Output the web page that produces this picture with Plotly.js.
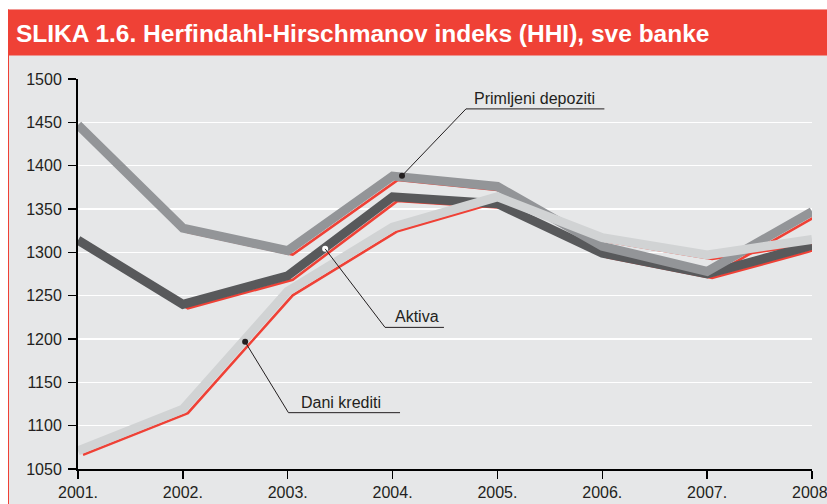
<!DOCTYPE html>
<html>
<head>
<meta charset="utf-8">
<script src="https://cdn.plot.ly/plotly-3.0.1.min.js"></script>
<style>
  html, body { margin: 0; padding: 0; background: #ffffff; }
  #chart { width: 827px; height: 504px; }
</style>
</head>
<body>
<div id="chart"></div>
<script>
// ---- data ----
const years = [2001, 2002, 2003, 2004, 2005, 2006, 2007, 2008];
const yearLabels = ["2001.", "2002.", "2003.", "2004.", "2005.", "2006.", "2007.", "2008."];
const depoziti = [1447, 1328, 1302, 1388, 1376, 1307, 1278, 1347];
const aktiva   = [1314, 1240, 1273, 1364, 1356, 1299, 1275, 1308];
const krediti  = [1071, 1119, 1255, 1329, 1364, 1317, 1297, 1315];
const yTicks = [1050, 1100, 1150, 1200, 1250, 1300, 1350, 1400, 1450, 1500];

const seriesNames = ["Primljeni depoziti", "Aktiva", "Dani krediti"];
// leader-line anchor points (data coords): dot, elbow, end of underline
const labelDotX   = [2004.09, 2003.357, 2002.594];
const labelDotY   = [1388.4, 1304.0, 1196.7];
const labelElbowX = [2004.70, 2003.928, 2003.007];
const labelElbowY = [1465.5, 1213.4, 1115.0];
const labelEndX   = [2006.02, 2004.49, 2004.071];
const labelTextX  = [2004.76, 2004.00, 2003.11];

// ---- layout constants ----
const W = 827, H = 504;
const M = {l: 78, r: 15, t: 79, b: 35};
const PW = W - M.l - M.r, PH = H - M.t - M.b;
const xRange = [2001, 2008], yRange = [1050, 1500];
const px2x = px => (px - M.l) / PW;
const py2y = py => (H - M.b - py) / PH;
const shadowDX = 5, shadowDY = 4; // pixel offset of the red shadow line
const dxData = shadowDX * (xRange[1] - xRange[0]) / PW;
const dyData = shadowDY * (yRange[1] - yRange[0]) / PH;

const FONT = "'Liberation Sans', Arial, Helvetica, sans-serif";
const RED = "#ef4136";
const TXT = "#231f20";
const grays = ["#939598", "#58595b", "#d1d3d4"];
const dataSets = [depoziti, aktiva, krediti];

const traces = [];
// red shadow lines (drawn first, shifted via overlay axes)
dataSets.forEach((d, i) => {
  traces.push({
    x: years, y: d, xaxis: "x2", yaxis: "y2", type: "scatter", mode: "lines",
    line: {color: RED, width: 2.6}, cliponaxis: false, hoverinfo: "skip", showlegend: false
  });
});
// thick gray lines: aktiva (dark) below, then depoziti, then krediti on top
[1, 0, 2].forEach(i => {
  traces.push({
    x: years, y: dataSets[i], xaxis: "x3", yaxis: "y3", type: "scatter", mode: "lines",
    name: seriesNames[i],
    line: {color: grays[i], width: 9}, cliponaxis: false, hoverinfo: "skip", showlegend: false
  });
});
// label dots
traces.push({
  x: labelDotX, y: labelDotY, xaxis: "x3", yaxis: "y3", type: "scatter", mode: "markers",
  marker: {size: 6, color: [TXT, "#ffffff", TXT]}, cliponaxis: false, hoverinfo: "skip", showlegend: false
});

const shapes = [];
// frame pieces
shapes.push({type: "rect", xref: "paper", yref: "paper", x0: px2x(0), x1: px2x(W), y0: py2y(9.5), y1: py2y(0),
  fillcolor: "#ffffff", line: {width: 0}, layer: "above"});
shapes.push({type: "rect", xref: "paper", yref: "paper", x0: px2x(0), x1: px2x(8), y0: py2y(H), y1: py2y(0),
  fillcolor: "#ffffff", line: {width: 0}, layer: "above"});
shapes.push({type: "rect", xref: "paper", yref: "paper", x0: px2x(8), x1: px2x(W), y0: py2y(55.5), y1: py2y(9.5),
  fillcolor: RED, line: {width: 0}, layer: "above"});
shapes.push({type: "line", xref: "paper", yref: "paper", x0: px2x(8.5), x1: px2x(8.5), y0: py2y(H), y1: py2y(9.5),
  line: {color: RED, width: 1}, layer: "above"});
// leader lines
seriesNames.forEach((n, i) => {
  shapes.push({type: "path", xref: "x", yref: "y",
    path: `M${labelDotX[i]},${labelDotY[i]} L${labelElbowX[i]},${labelElbowY[i]} L${labelEndX[i]},${labelElbowY[i]}`,
    line: {color: TXT, width: 1}, layer: "above"});
});

const annotations = seriesNames.map((n, i) => ({
  xref: "x", yref: "y", x: labelTextX[i], y: labelElbowY[i], text: n, showarrow: false,
  xanchor: "left", yanchor: "bottom", yshift: 0,
  font: {family: FONT, size: 16, color: TXT}
}));

const layout = {
  width: W, height: H,
  margin: M,
  paper_bgcolor: "#e6e7e8",
  plot_bgcolor: "#e6e7e8",
  showlegend: false,
  title: {
    text: "<b>SLIKA 1.6. Herfindahl-Hirschmanov indeks (HHI), sve banke</b>",
    xref: "container", yref: "container", x: 16 / W, xanchor: "left",
    y: 1 - 33 / H, yanchor: "middle",
    font: {family: FONT, size: 24.5, color: "#ffffff"}
  },
  xaxis: {
    range: xRange, tickvals: years, ticktext: yearLabels,
    showgrid: false, zeroline: false,
    showline: true, linecolor: "#000000", linewidth: 2,
    ticks: "outside", ticklen: 8, tickwidth: 1.5, tickcolor: "#000000",
    ticklabeloverflow: "allow",
    tickfont: {family: FONT, size: 16, color: TXT}
  },
  yaxis: {
    range: yRange, tickvals: yTicks,
    showgrid: true, gridcolor: "#ffffff", gridwidth: 1.6, zeroline: false,
    showline: true, linecolor: "#000000", linewidth: 2,
    ticks: "outside", ticklen: 8, tickwidth: 1.5, tickcolor: "#000000",
    ticklabelstandoff: 3,
    tickfont: {family: FONT, size: 16, color: TXT}
  },
  xaxis2: {overlaying: "x", range: [xRange[0] - dxData, xRange[1] - dxData], visible: false},
  yaxis2: {overlaying: "y", range: [yRange[0] + dyData, yRange[1] + dyData], visible: false},
  xaxis3: {overlaying: "x", range: xRange, visible: false},
  yaxis3: {overlaying: "y", range: yRange, visible: false},
  shapes: shapes,
  annotations: annotations
};

Plotly.newPlot("chart", traces, layout, {staticPlot: true, displayModeBar: false});
</script>
</body>
</html>
